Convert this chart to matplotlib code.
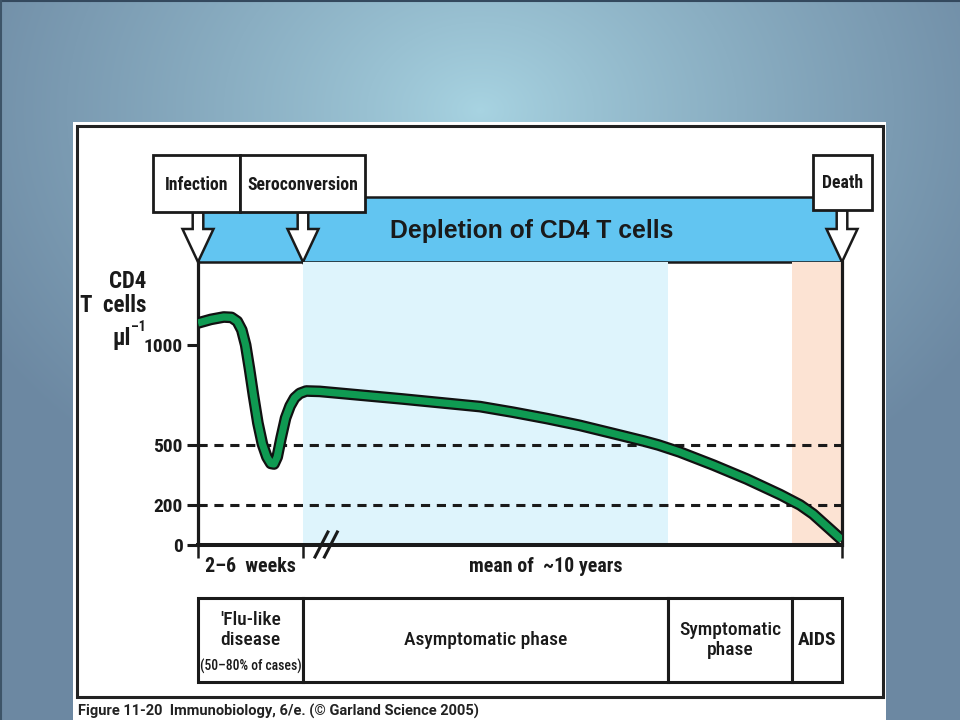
import numpy as np
import matplotlib
matplotlib.use("Agg")
import matplotlib.pyplot as plt
from matplotlib.patches import Rectangle, Polygon
from matplotlib.transforms import blended_transform_factory

# ---------------- data ----------------
# timeline position: 0 = infection, 100 = death (axis is not linear in time)
timeline_pos = [0, 2.0, 4.0, 5.2, 6.1, 6.8, 7.4, 8.0, 8.6, 9.3, 10.0, 10.7, 11.3, 11.8,
                12.3, 12.9, 13.6, 14.3, 15.0, 15.8, 16.8, 18.9, 31.8, 43.8, 48.9, 54.2,
                59.3, 64.4, 69.2, 71.5, 74.8, 80.0, 85.2, 90.4, 93.5, 95.5, 98.1, 100]
cd4_counts = [1110, 1128, 1140, 1138, 1118, 1075, 1000, 880, 750, 610, 505, 440, 408, 405,
              440, 535, 635, 695, 735, 758, 770, 768, 730, 692, 664, 632,
              598, 558, 520, 500, 465, 400, 330, 252, 200, 155, 80, 25]
ytick_values = [0, 200, 500, 1000]
ytick_labels = ["0", "200", "500", "1000"]
threshold_levels = [500, 200]
event_pos = [0, 16.3, 100]
event_labels = ["Infection", "Seroconversion", "Death"]
asymptomatic_end = 73.0
aids_start = 92.2
phase_bounds = [0, 16.3, 73.0, 92.2, 100]
phase_labels = ["'Flu-like\ndisease", "Asymptomatic phase", "Symptomatic\nphase", "AIDS"]
x_period_labels = ["2\u20136  weeks", "mean of  ~10 years"]

NARROW = ["Roboto Condensed", "Liberation Sans Narrow", "DejaVu Sans"]
REG = ["Liberation Sans", "DejaVu Sans"]
INK = "#1a1a1a"
NB = dict(fontfamily=NARROW, fontstretch="condensed", fontweight="bold", color=INK)
NR = dict(fontfamily=NARROW, fontstretch="condensed", fontweight="medium", color=INK)

fig = plt.figure(figsize=(9.6, 7.2), dpi=100)

# ---------- overlay (pixel coordinates) ----------
over = fig.add_axes([0, 0, 1, 1], zorder=0)
over.set_xlim(0, 960)
over.set_ylim(720, 0)
over.axis("off")

yy, xx = np.mgrid[0:720, 0:960]
d = np.sqrt(((xx - 480) / 580.0) ** 2 + ((yy - 110) / 450.0) ** 2)
t = np.clip(d, 0, 1) ** 0.85
c0 = np.array([168, 212, 226]) / 255.0
c1 = np.array([108, 136, 162]) / 255.0
img = c0[None, None, :] * (1 - t[..., None]) + c1[None, None, :] * t[..., None]
over.imshow(img, extent=[0, 960, 720, 0], aspect="auto", zorder=0)
over.plot([0, 960], [0.8, 0.8], color="#34495e", lw=1.5, zorder=1)
over.plot([0.8, 0.8], [0, 720], color="#3d5468", lw=1.5, zorder=1)

# white panel and its border
over.add_patch(Rectangle((73, 122), 813, 600, facecolor="white", edgecolor="none", zorder=1))
over.add_patch(Rectangle((76.5, 126), 806, 571, facecolor="none", edgecolor="#222222", lw=2.2, zorder=2))

# ---------- data axes ----------
ax_l, ax_r, ax_t, ax_b = 198, 842, 262, 545
ax = fig.add_axes([ax_l / 960, 1 - ax_b / 720, (ax_r - ax_l) / 960, (ax_b - ax_t) / 720], zorder=2)
ax.set_facecolor("none")
ax.set_xlim(0, 100)
ax.set_ylim(0, (ax_b - ax_t) * 5)

ax.axvspan(event_pos[1], asymptomatic_end, color="#def4fc", lw=0, zorder=0)
ax.axvspan(aids_start, 100, color="#fce3d3", lw=0, zorder=0)
for lv in threshold_levels:
    ax.axhline(lv, color=INK, lw=2.2, dashes=(3, 2.2), zorder=1)

ax.plot(timeline_pos, cd4_counts, color="#111111", lw=8.4, solid_joinstyle="round",
        solid_capstyle="butt", zorder=3)
ax.plot(timeline_pos, cd4_counts, color="#0f9a52", lw=5.2, solid_joinstyle="round",
        solid_capstyle="butt", zorder=4)

ax.spines["top"].set_visible(False)
ax.spines["left"].set_linewidth(2.3)
ax.spines["right"].set_linewidth(2.3)
ax.spines["bottom"].set_linewidth(2.9)
for s in ["left", "right", "bottom"]:
    ax.spines[s].set_color(INK)

ax.set_yticks(ytick_values)
ax.set_yticklabels(ytick_labels, fontsize=14, **NB)
ax.tick_params(axis="y", direction="out", length=8, width=2.2, color=INK, pad=3)
ax.set_xticks(event_pos)
ax.set_xticklabels([])
ax.tick_params(axis="x", direction="out", length=9.5, width=1.8, color=INK)

# axis break mark
brk = 19.9
for dx in (-0.73, 0.73):
    ax.plot([brk + dx - 1.0, brk + dx + 1.0], [-60, 65], color=INK, lw=2.2,
            clip_on=False, zorder=5)

# x period labels (below the axis)
bt = blended_transform_factory(ax.transData, over.transData)
over.text(event_pos[0] + (event_pos[1] - event_pos[0]) / 2, 567, x_period_labels[0], transform=bt,
          ha="center", va="center", fontsize=14.3, **NB)
over.text(54.0, 567, x_period_labels[1], transform=bt,
          ha="center", va="center", fontsize=14.3, **NB)

# CD4+ PBL label
over.text(511, 355, "CD4", ha="right", va="center", fontsize=14.3, **NB)
over.text(512, 348, "+", ha="left", va="center", fontsize=8.5, **NB)
over.text(525, 355, "PBL", ha="left", va="center", fontsize=14.3, **NB)

# y axis label
over.text(146, 282, "CD4", ha="right", va="center", fontsize=16.5, **NB)
over.text(146, 306, "T  cells", ha="right", va="center", fontsize=16.5, **NB)
over.text(131, 339, "\u03bcl", ha="right", va="center", fontsize=16.5, **NB)
over.text(131, 327, "\u20131", ha="left", va="center", fontsize=10, **NB)

# ---------- top band and event markers ----------
band_top, band_bot = 197, ax_t
band = Polygon([(event_pos[0], band_top), (event_pos[2], band_top), (event_pos[2], band_bot),
                (event_pos[0], band_bot)], closed=True, transform=bt,
               facecolor="#62c5f1", edgecolor=INK, lw=1.8, zorder=3)
over.add_patch(band)
over.text(532, 231, "Depletion of CD4 T cells", ha="center", va="center", fontfamily=REG,
          fontweight="bold", fontsize=17.8, color=INK, zorder=6)

box_px = [(153, 240), (240, 365), (813, 872)]
box_y = [(155, 212), (155, 212), (155, 210)]
for (bx0, bx1), (by0, by1), lab, ev in zip(box_px, box_y, event_labels, event_pos):
    tipx = ax.transData.transform((ev, 0))[0]
    tipx = over.transData.inverted().transform((tipx, 0))[0]
    sh, hh, hb = 5.3, 15.5, 229
    arrow = Polygon([(tipx - sh, by1), (tipx - sh, hb), (tipx - hh, hb), (tipx, band_bot),
                     (tipx + hh, hb), (tipx + sh, hb), (tipx + sh, by1)], closed=True,
                    facecolor="white", edgecolor=INK, lw=1.8, zorder=4, joinstyle="miter")
    over.add_patch(arrow)
    over.add_patch(Rectangle((bx0, by0), bx1 - bx0, by1 - by0, facecolor="white",
                             edgecolor=INK, lw=2.0, zorder=5))
    over.text((bx0 + bx1) / 2, (by0 + by1) / 2 + 1, lab, ha="center", va="center",
              fontsize=12.8, zorder=6, **NB)

# ---------- phase table ----------
tb_top, tb_bot = 598, 682
for i, lab in enumerate(phase_labels):
    x0, x1 = phase_bounds[i], phase_bounds[i + 1]
    over.add_patch(Polygon([(x0, tb_top), (x1, tb_top), (x1, tb_bot), (x0, tb_bot)], closed=True,
                           transform=bt, facecolor="white", edgecolor=INK, lw=2.2, zorder=3))
    xc = (x0 + x1) / 2
    if i == 0:
        over.text(xc, 630, lab, transform=bt, ha="center", va="center",
                  fontsize=14, linespacing=1.2, zorder=4, **NR)
        over.text(xc, 666, "(50\u201380% of cases)", transform=bt, ha="center", va="center",
                  fontsize=9.8, zorder=4, **NR)
    else:
        style = NB if lab == "AIDS" else NR
        over.text(xc, 640, lab, transform=bt, ha="center", va="center",
                  fontsize=14, linespacing=1.2, zorder=4, **style)

# caption
over.text(78, 711, "Figure 11-20  Immunobiology, 6/e. (\u00a9 Garland Science 2005)", ha="left",
          va="center", fontsize=10.5, zorder=4, fontfamily=["Roboto", "DejaVu Sans"],
          fontweight="bold", color="#222222")

fig.savefig("out.png", dpi=100)
